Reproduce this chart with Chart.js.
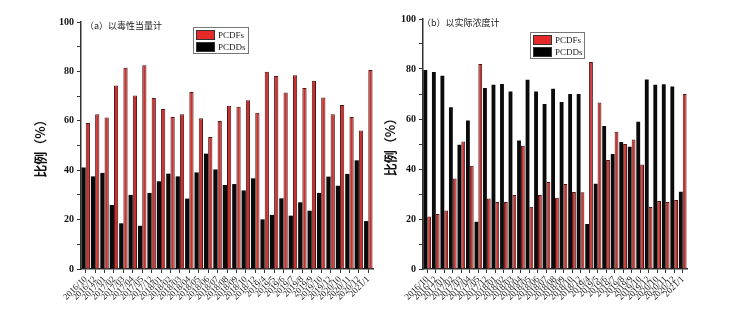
<!DOCTYPE html>
<html>
<head>
<meta charset="utf-8">
<script src="https://cdn.jsdelivr.net/npm/chart.js@4/dist/chart.umd.min.js"></script>
<style>
html,body{margin:0;padding:0;background:#fff;}
#wrap{position:relative;width:733px;height:330px;overflow:hidden;}
.pane{position:absolute;top:0;height:330px;}
</style>
</head>
<body>
<div id="wrap">
  <div class="pane" style="left:0;width:380px;"><canvas id="ca"></canvas></div>
  <div class="pane" style="left:380px;width:353px;"><canvas id="cb"></canvas></div>
</div>
<script>
const categories = ["2016/10","2016/12","2017/01","2017/02","2017/03","2017/04","2017/05","2017/12","2018/01","2018/02","2018/03","2018/04","2018/05","2018/06","2018/07","2018/08","2018/09","2018/10","2018/12","2019/4","2019/5","2019/6","2019/7","2019/8","2019/9","2019/10","2019/12","2020/10","2020/11","2020/12","2021/1"];

// (a) toxic equivalent basis
const teqPCDDs = [41.1,37.5,38.9,25.9,18.5,30.0,17.5,30.8,35.5,38.6,37.5,28.5,39.1,46.7,40.3,34.0,34.4,31.8,36.7,20.1,21.9,28.6,21.6,27.0,23.6,30.8,37.4,33.7,38.5,44.0,19.4];
const teqPCDFs = [59.1,62.7,61.3,74.3,81.5,70.2,82.5,69.2,64.8,61.5,62.7,71.7,61.0,53.4,59.9,66.1,65.7,68.3,63.3,79.9,78.1,71.5,78.4,73.3,76.2,69.4,62.7,66.4,61.5,56.1,80.6];

// (b) actual concentration basis
const concPCDDs = [79.6,78.8,77.3,64.7,49.7,59.4,18.9,72.4,73.7,74.0,71.0,51.4,75.7,71.0,66.0,72.1,66.8,70.0,70.0,18.0,34.1,57.2,46.0,50.8,48.9,58.9,75.8,73.7,73.9,73.0,30.9];
const concPCDFs = [21.0,22.0,23.4,36.2,51.0,41.3,82.0,28.2,26.8,26.8,29.6,49.3,24.9,29.6,34.8,28.5,34.0,30.8,30.7,82.8,66.6,43.6,54.9,50.0,51.8,41.8,24.8,27.2,26.8,27.6,70.0];

const yTicks = [0,20,40,60,80,100];
const titleA = "（a）以毒性当量计";
const titleB = "（b）以实际浓度计";
const yTitle = "比例（%）";

const SERIF = "'Liberation Serif', 'Times New Roman', serif";
const CJK = "'Noto Sans CJK SC', sans-serif";

const overlay = {
  id: 'overlay',
  afterDraw(chart, args, o) {
    const ctx = chart.ctx;
    ctx.save();
    // panel title
    ctx.fillStyle = '#222';
    ctx.font = "9px " + CJK;
    ctx.textBaseline = 'middle';
    ctx.textAlign = 'left';
    ctx.fillText(o.title, o.tx, o.ty);
    // legend box
    const b = o.box;
    ctx.fillStyle = '#fff';
    ctx.fillRect(b.x, b.y, b.w, b.h);
    ctx.strokeStyle = '#777';
    ctx.lineWidth = 1;
    ctx.strokeRect(b.x + 0.5, b.y + 0.5, b.w, b.h);
    const order = [1, 0];
    order.forEach((di, i) => {
      const ds = chart.data.datasets[di];
      const sy = b.y + 3 + i * 12;
      ctx.fillStyle = ds.legendColor;
      ctx.fillRect(b.x + 3, sy, 19, 10);
      ctx.strokeStyle = '#333';
      ctx.strokeRect(b.x + 3.5, sy + 0.5, 18, 9);
      ctx.fillStyle = '#222';
      ctx.font = "9px " + SERIF;
      ctx.textAlign = 'left';
      ctx.textBaseline = 'middle';
      ctx.fillText(ds.label, b.x + 25, sy + 5.5);
    });
    ctx.restore();
  }
};

function makeChart(id, pcdds, pcdfs, geom) {
  return new Chart(document.getElementById(id), {
    type: 'bar',
    data: {
      labels: categories,
      datasets: [
        { label: 'PCDDs', data: pcdds, backgroundColor: '#0a0a0a', borderWidth: 0, legendColor: '#000' },
        { label: 'PCDFs', data: pcdfs, backgroundColor: '#c9312f', borderColor: '#4d1414', borderWidth: 1, borderSkipped: 'bottom', legendColor: '#e62a2a' }
      ]
    },
    options: {
      responsive: true,
      maintainAspectRatio: false,
      animation: false,
      events: [],
      layout: { padding: geom.pad },
      datasets: { bar: { categoryPercentage: 0.9, barPercentage: 1.0 } },
      plugins: {
        legend: { display: false },
        tooltip: { enabled: false },
        overlay: geom.overlay
      },
      scales: {
        x: {
          offset: true,
          afterFit: s => { s.height = geom.xh; },
          grid: { display: true, drawOnChartArea: false, drawTicks: true, tickLength: 4, color: '#333', offset: false },
          border: { display: true, color: '#333', width: 1.5 },
          ticks: { autoSkip: false, minRotation: 45, maxRotation: 45, padding: 1, color: '#222', font: { family: SERIF, size: 9 } }
        },
        y: {
          min: 0, max: 100,
          afterFit: s => { s.width = geom.yw; },
          afterBuildTicks: s => {
            const t = [];
            for (let v = 0; v <= 100; v += 10) t.push({ value: v });
            s.ticks = t;
          },
          grid: { display: true, drawOnChartArea: false, drawTicks: true, tickLength: 4, color: '#333' },
          border: { display: true, color: '#333', width: 1.5 },
          ticks: {
            padding: 3, color: '#111',
            font: { family: SERIF, size: 10, weight: 'bold' },
            callback: v => yTicks.includes(v) ? String(v) : ''
          },
          title: { display: true, text: yTitle, color: '#111', padding: { top: 2, bottom: 2 }, font: { family: CJK, size: 13, weight: 'bold' } }
        }
      }
    },
    plugins: [overlay]
  });
}

makeChart('ca', teqPCDDs, teqPCDFs, {
  pad: { left: 30, right: 7, top: 22, bottom: 0 },
  yw: 51, xh: 61,
  overlay: { title: titleA, tx: 85, ty: 26, box: { x: 193, y: 27, w: 55, h: 26 } }
});

makeChart('cb', concPCDDs, concPCDFs, {
  pad: { left: 0, right: 46, top: 19, bottom: 0 },
  yw: 43, xh: 61,
  overlay: { title: titleB, tx: 42, ty: 23, box: { x: 150, y: 32, w: 54, h: 26 } }
});
</script>
</body>
</html>
